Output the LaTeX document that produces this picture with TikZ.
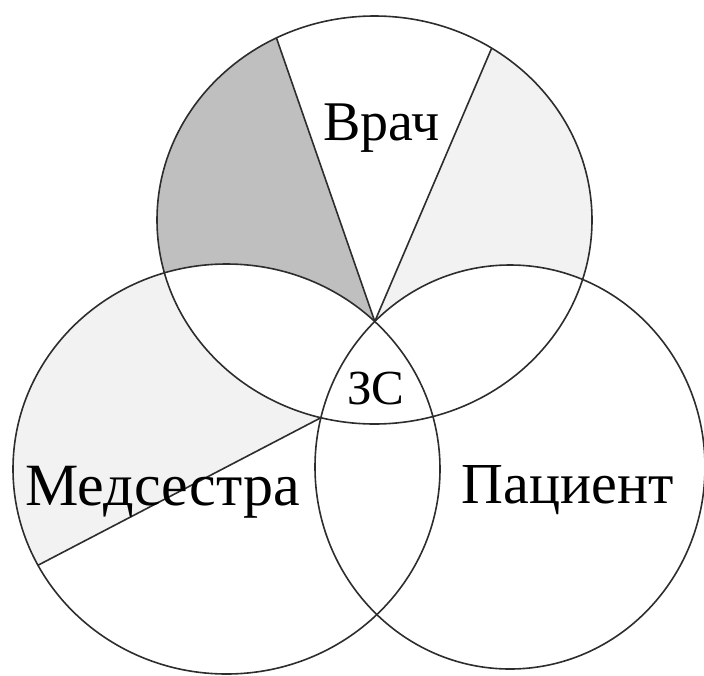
\documentclass[tikz,border=0pt]{standalone}
\usepackage{fontspec}
\setmainfont{Liberation Serif}
\usetikzlibrary{calc,intersections}
\definecolor{darkfill}{RGB}{191,191,191}
\definecolor{lightfill}{RGB}{242,242,242}
\definecolor{linecol}{RGB}{45,45,45}
\begin{document}
\begin{tikzpicture}[x=1pt,y=-1pt,
  outline/.style={draw=linecol, line width=1.6pt},
  divider/.style={draw=linecol, line width=1.6pt},
  lbl/.style={inner sep=0pt, anchor=base, text=black}]
\useasboundingbox (0,0) rectangle (704,675);
% centres
\coordinate (Tc) at (374.5,220);
\coordinate (Lc) at (226.5,469);
\coordinate (Rc) at (510,467);
% helper paths
\path[name path=Tfull] (Tc) ellipse [x radius=217.5pt, y radius=204pt];
\path[name path=Rfull] (Rc) ellipse [x radius=195pt, y radius=202pt];
\path[name path=Lq] ($(Lc)+(213.5,0)$) arc [start angle=0, end angle=90, x radius=213.5pt, y radius=205pt];
\path[name path=Rq] ($(Rc)+(0,-202)$) arc [start angle=90, end angle=180, x radius=195pt, y radius=202pt];
\path[name intersections={of=Lq and Rfull, by=P}];
\path[name intersections={of=Rq and Tfull, by=D}];
\path (Tc) ++(243.2:217.5 and 204) coordinate (A);
\path (Tc) ++(302.6:217.5 and 204) coordinate (B);
\path (Lc) ++(152:213.5 and 205) coordinate (C);
% dark sector of the top circle
\begin{scope}
  \clip (Tc) ellipse [x radius=217.5pt, y radius=204pt];
  \clip ($(A)!-2!(P)$) -- ($(A)!3!(P)$) -- (-300,900) -- (-300,-600) -- cycle;
  \fill[darkfill, even odd rule] (-500,-500) rectangle (1200,1200)
    (Lc) ellipse [x radius=213.5pt, y radius=205pt];
\end{scope}
% light sector of the top circle
\begin{scope}
  \clip (Tc) ellipse [x radius=217.5pt, y radius=204pt];
  \clip ($(B)!-2!(P)$) -- ($(B)!3!(P)$) -- (1000,900) -- (1000,-600) -- cycle;
  \fill[lightfill, even odd rule] (-500,-500) rectangle (1200,1200)
    (Rc) ellipse [x radius=195pt, y radius=202pt];
\end{scope}
% light sector of the left circle
\begin{scope}
  \clip (Lc) ellipse [x radius=213.5pt, y radius=205pt];
  \clip ($(C)!-2!(D)$) -- ($(C)!3!(D)$) -- (1000,-300) -- (-600,-300) -- cycle;
  \fill[lightfill, even odd rule] (-500,-500) rectangle (1200,1200)
    (Tc) ellipse [x radius=217.5pt, y radius=204pt];
\end{scope}
% circles
\draw[outline] (Tc) ellipse [x radius=217.5pt, y radius=204pt];
\draw[outline] (Lc) ellipse [x radius=213.5pt, y radius=205pt];
\draw[outline] (Rc) ellipse [x radius=195pt, y radius=202pt];
% dividers
\draw[divider] (A) -- (P);
\draw[divider] (B) -- (P);
\draw[divider] (C) -- (D);
% labels
\node[lbl] (t_vrach) at (381.7,140) {\fontsize{56}{60}\selectfont Врач};
\node[lbl] (t_zs) at (376,404) {\fontsize{49}{54}\selectfont ЗС};
\node[lbl] (t_med) at (162.5,505) {\fontsize{60}{64}\selectfont Медсестра};
\node[lbl] (t_pac) at (567.5,503) {\fontsize{58}{62}\selectfont Пациент};
\end{tikzpicture}
\end{document}
